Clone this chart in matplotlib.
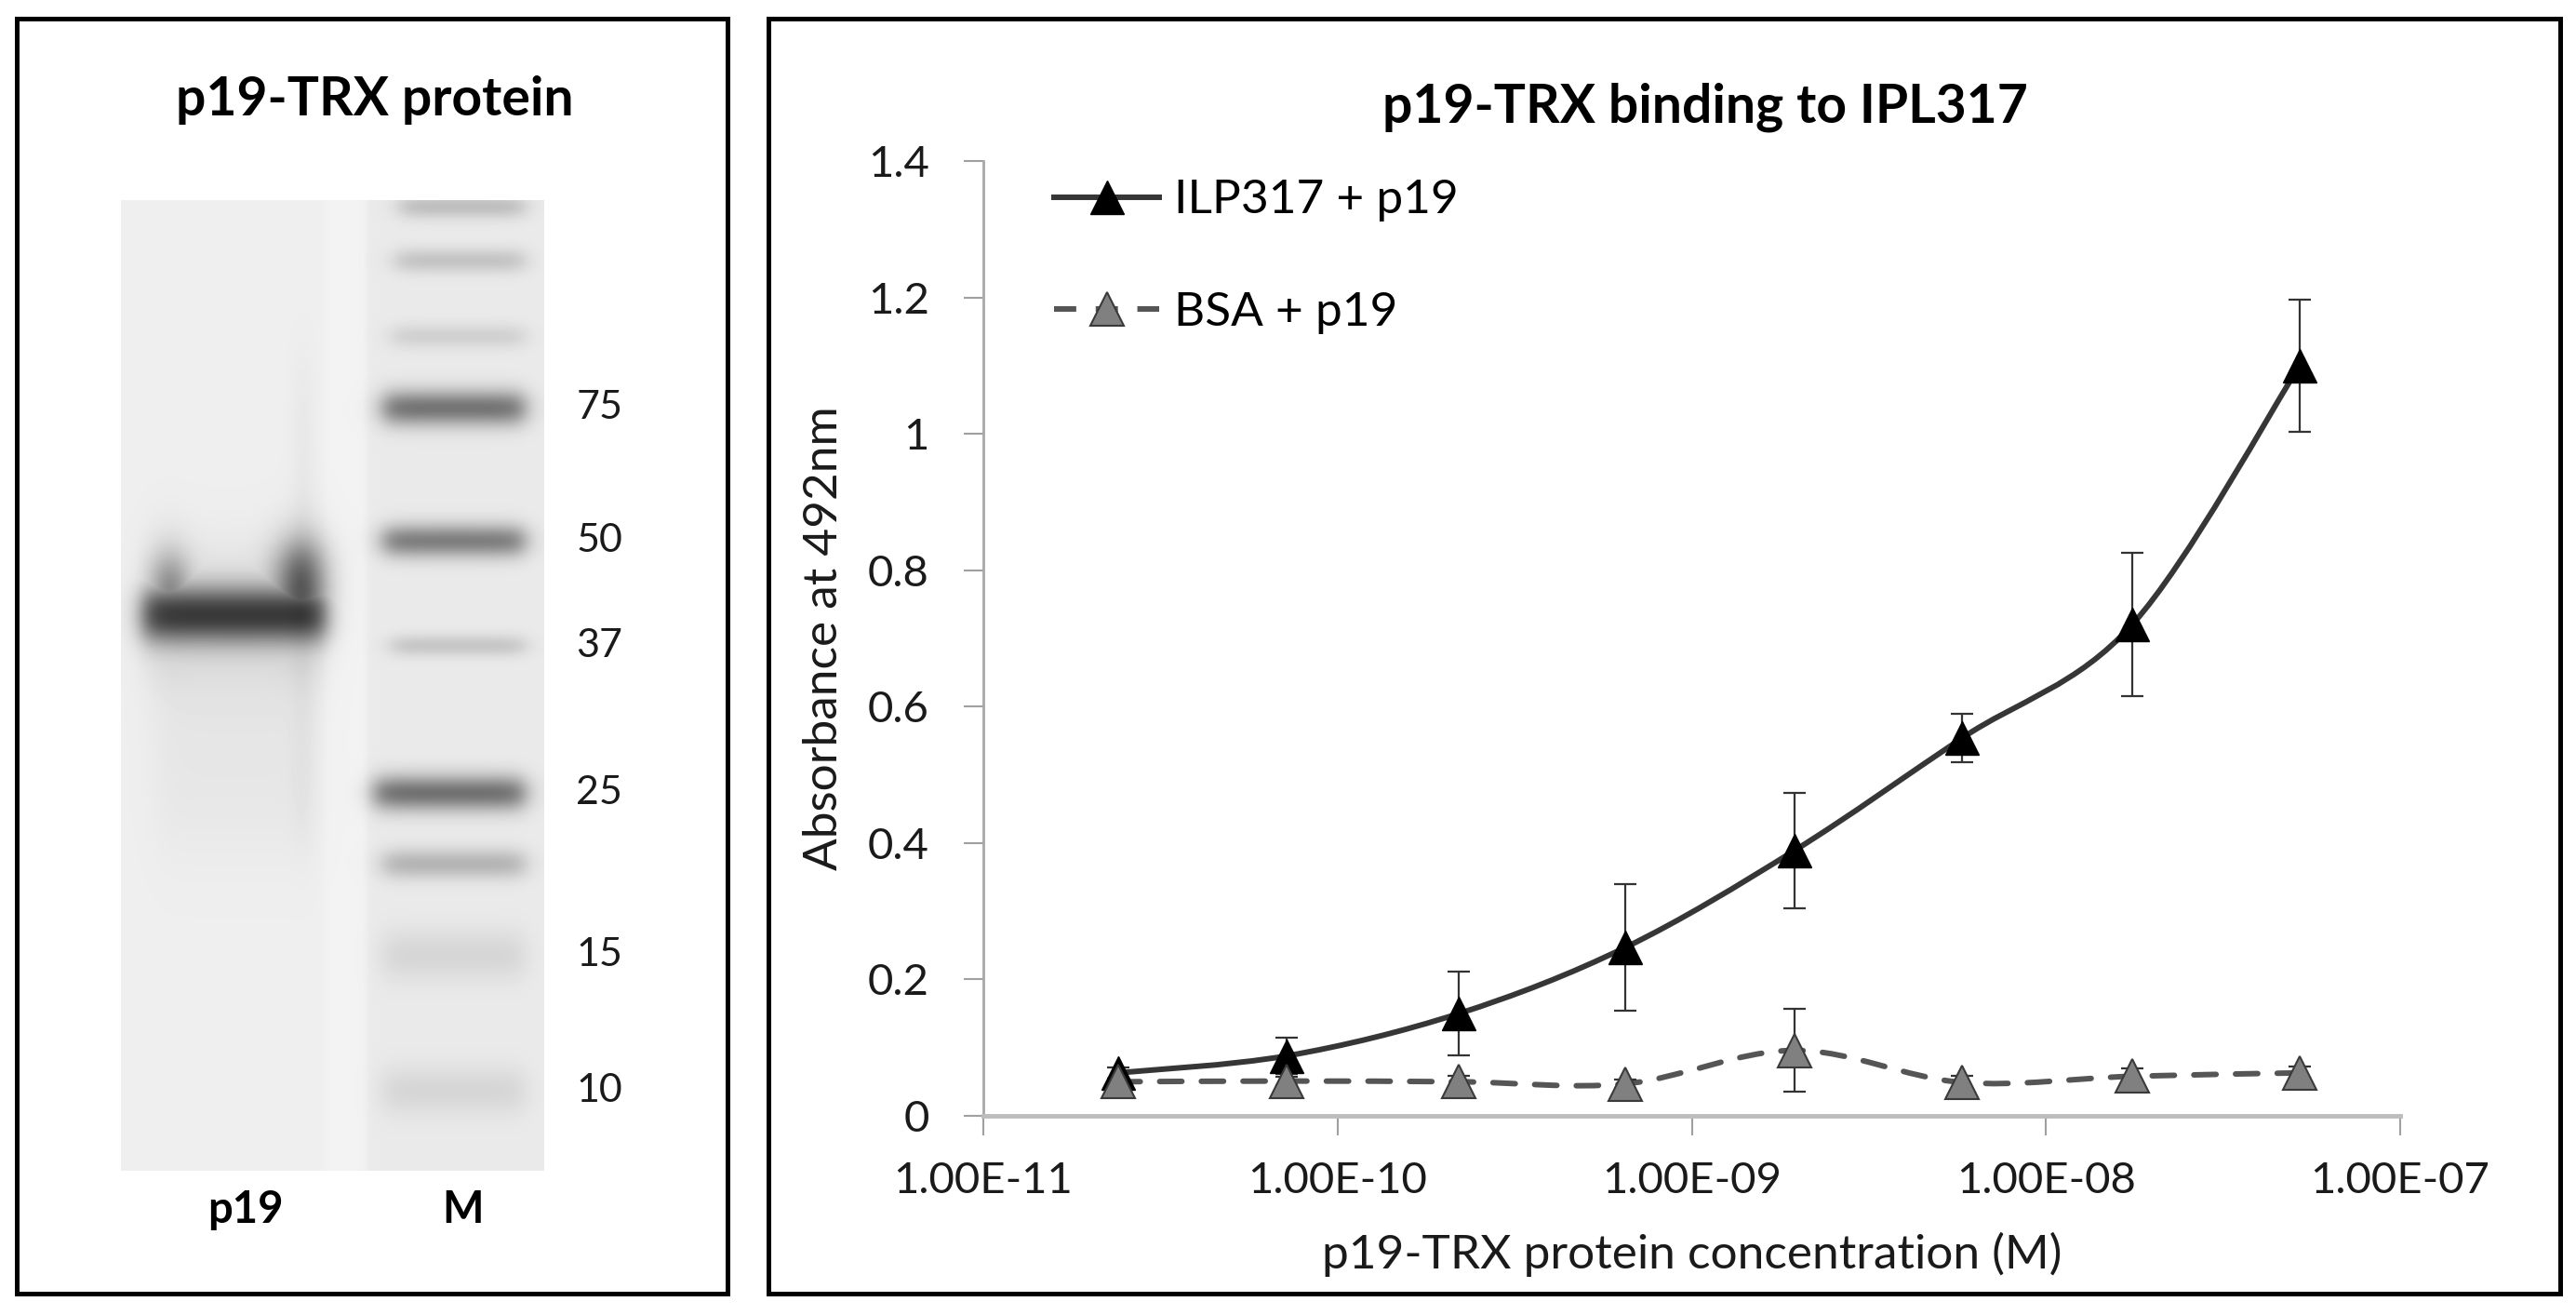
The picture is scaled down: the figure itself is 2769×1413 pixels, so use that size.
import numpy as np
import matplotlib
matplotlib.use("Agg")
import matplotlib.pyplot as plt
from matplotlib.path import Path
from matplotlib.patches import PathPatch, Rectangle
from matplotlib.lines import Line2D
from matplotlib.ticker import FuncFormatter, FixedLocator

plt.rcParams['font.family'] = ['Lato', 'DejaVu Sans']

# ---- binding assay data ----
conc = [2.4e-11, 7.2e-11, 2.2e-10, 6.5e-10, 1.95e-9, 5.8e-9, 1.75e-8, 5.2e-8]
ilp_abs = [0.063, 0.088, 0.150, 0.247, 0.389, 0.554, 0.720, 1.100]
ilp_err = [0.008, 0.027, 0.061, 0.093, 0.085, 0.035, 0.105, 0.097]
bsa_abs = [0.050, 0.051, 0.050, 0.047, 0.096, 0.049, 0.058, 0.063]
bsa_err = [0.005, 0.006, 0.008, 0.006, 0.061, 0.010, 0.012, 0.010]

x_ticks = [1e-11, 1e-10, 1e-9, 1e-8, 1e-7]
y_ticks = [0, 0.2, 0.4, 0.6, 0.8, 1.0, 1.2, 1.4]

# ---- gel data (relative migration, band strength) ----
marker_rf = [0.006, 0.062, 0.140, 0.214, 0.351, 0.459, 0.611, 0.684, 0.778, 0.918]
marker_int = [0.17, 0.15, 0.10, 0.46, 0.42, 0.14, 0.47, 0.21, 0.08, 0.08]
marker_kda = ["", "", "", "75", "50", "37", "25", "", "15", "10"]
p19_rf = 0.427
p19_int = 0.60

W_PX, H_PX = 2769, 1413
fig = plt.figure(figsize=(W_PX / 100, H_PX / 100), dpi=100)


def fx(px):
    return px / W_PX


def fy(py):
    return 1 - py / H_PX


# panel frames
for x0, x1 in [(17.5, 782.5), (826, 2752)]:
    fig.add_artist(Rectangle((fx(x0), fy(1390)), fx(x1) - fx(x0), fy(20) - fy(1390),
                             transform=fig.transFigure, fill=False,
                             edgecolor='black', lw=3.6))


# ---------------- gel panel ----------------
def soft_box(v, a, b, e):
    return 0.5 * (np.tanh((v - a) / e) - np.tanh((v - b) / e))


def gauss(v, c, s):
    return np.exp(-0.5 * ((v - c) / s) ** 2)


H, W = 1043, 455
gx = np.linspace(0, 1, W)[None, :]
gy = np.linspace(0, 1, H)[:, None]

base = np.full((H, W), 0.935)
base = base - 0.018 * soft_box(gx, 0.58, 1.3, 0.008)
base = base + 0.015 * soft_box(gx, 0.48, 0.58, 0.01)

band_sig = [0.009, 0.009, 0.009, 0.013, 0.012, 0.008, 0.013, 0.011, 0.019, 0.018]
band_x0 = [0.66, 0.65, 0.64, 0.62, 0.62, 0.64, 0.60, 0.62, 0.62, 0.62]
dark = np.zeros((H, W))
for rf, amp, sig, bx in zip(marker_rf, marker_int, band_sig, band_x0):
    dark += amp * gauss(gy, rf, sig) * soft_box(gx, bx, 0.955, 0.03)

# p19 lane: main band with raised edges ("ears"), combined with max so they merge
lane = soft_box(gx, 0.05, 0.485, 0.03)
p19_band = p19_int * np.exp(-0.5 * np.abs((gy - p19_rf) / 0.021) ** 2.2) * lane
ear_left = 0.38 * gauss(gx, 0.115, 0.035) * soft_box(gy, 0.372, p19_rf + 0.01, 0.028)
ear_right = 0.55 * gauss(gx, 0.425, 0.045) * soft_box(gy, 0.358, p19_rf + 0.01, 0.028)
dark += np.maximum(p19_band, np.maximum(ear_left, ear_right))
dark += 0.09 * gauss(gy, p19_rf, 0.045) * lane
dark += 0.035 * soft_box(gx, 0.08, 0.46, 0.04) * soft_box(gy, p19_rf, 0.66, 0.05)
dark += 0.025 * gauss(gx, 0.43, 0.02) * soft_box(gy, 0.17, 0.66, 0.04)

gel = np.clip(base - dark, 0, 1)

ax_gel = fig.add_axes([fx(130), fy(1258), fx(585) - fx(130), fy(215) - fy(1258)])
ax_gel.imshow(gel, cmap='gray', vmin=0, vmax=1, extent=(0, 1, 1, 0),
              aspect='auto', interpolation='bilinear')
ax_gel.set_xlim(0, 1)
ax_gel.set_ylim(1, 0)
ax_gel.axis('off')

for rf, lab in zip(marker_rf, marker_kda):
    if lab:
        ax_gel.text(1.13, rf, lab, ha='center', va='center', fontsize=31,
                    color='#1a1a1a', clip_on=False)
ax_gel.text(0.295, 1.04, "p19", ha='center', va='center', fontsize=34,
            fontweight='bold', clip_on=False)
ax_gel.text(0.807, 1.04, "M", ha='center', va='center', fontsize=34,
            fontweight='bold', clip_on=False)
fig.text(fx(403), fy(107), "p19-TRX protein", ha='center', va='center',
         fontsize=41, fontweight='bold')


# ---------------- binding panel ----------------
def smooth_path(xs, ys):
    # Excel-like smoothed line: Catmull-Rom segments in log-x space
    pts = np.column_stack([np.log10(xs), ys])
    n = len(pts)
    verts = [pts[0]]
    codes = [Path.MOVETO]
    for i in range(n - 1):
        p0 = pts[max(i - 1, 0)]
        p1 = pts[i]
        p2 = pts[i + 1]
        p3 = pts[min(i + 2, n - 1)]
        verts += [p1 + (p2 - p0) / 6, p2 - (p3 - p1) / 6, p2]
        codes += [Path.CURVE4] * 3
    verts = np.array(verts)
    verts[:, 0] = 10 ** verts[:, 0]
    return Path(verts, codes)


ax = fig.add_axes([fx(1057), fy(1199), fx(2580) - fx(1057), fy(173) - fy(1199)])
ax.set_xscale('log')
ax.set_xlim(1e-11, 1e-7)
ax.set_ylim(0, 1.4)

ilp_color = '#363636'
bsa_color = '#555555'
lw = 4.3

ax.add_patch(PathPatch(smooth_path(conc, ilp_abs), fill=False, edgecolor=ilp_color,
                       lw=lw, zorder=3))
ax.add_patch(PathPatch(smooth_path(conc, bsa_abs), fill=False, edgecolor=bsa_color,
                       lw=lw, linestyle=(0, (4, 3.5)), capstyle='round', zorder=3))

ax.errorbar(conc, ilp_abs, yerr=ilp_err, fmt='none', ecolor='#333333',
            elinewidth=1.6, capsize=8.5, capthick=1.6, zorder=4)
ax.errorbar(conc, bsa_abs, yerr=bsa_err, fmt='none', ecolor='#333333',
            elinewidth=1.6, capsize=8.5, capthick=1.6, zorder=4)
ax.plot(conc, ilp_abs, linestyle='none', marker='^', ms=26, mfc='black',
        mec='black', mew=1, zorder=5)
ax.plot(conc, bsa_abs, linestyle='none', marker='^', ms=26, mfc='#808080',
        mec='#3a3a3a', mew=1.5, zorder=6)

for s in ['top', 'right']:
    ax.spines[s].set_visible(False)
ax.spines['left'].set_color('#a8a8a8')
ax.spines['left'].set_linewidth(2)
ax.spines['bottom'].set_color('#bdbdbd')
ax.spines['bottom'].set_linewidth(3.5)

ax.xaxis.set_major_locator(FixedLocator(x_ticks))
ax.xaxis.set_minor_locator(FixedLocator([]))
ax.xaxis.set_major_formatter(FuncFormatter(lambda v, p: f"{v:.2E}"))
ax.yaxis.set_major_locator(FixedLocator(y_ticks))
ax.yaxis.set_major_formatter(FuncFormatter(lambda v, p: f"{v:g}"))
ax.tick_params(axis='both', which='major', direction='out', length=15, width=1.5,
               color='#a0a0a0', labelsize=34, labelcolor='#1a1a1a')
ax.tick_params(axis='y', pad=27)
ax.tick_params(axis='x', pad=20)

ax.set_xlabel("p19-TRX protein concentration (M)", fontsize=37, color='#1a1a1a')
ax.set_ylabel("Absorbance at 492nm", fontsize=37, color='#1a1a1a')
ax.xaxis.set_label_coords(0.5, -0.122)
ax.yaxis.set_label_coords(-0.097, 0.5)

fig.text(fx(1833), fy(115), "p19-TRX binding to IPL317", ha='center', va='center',
         fontsize=41, fontweight='bold')

handles = [
    Line2D([], [], color=ilp_color, lw=lw, marker='^', ms=26, mfc='black', mec='black'),
    Line2D([], [], color=bsa_color, lw=lw, linestyle=(0, (4, 3.5)), marker='^', ms=26,
           mfc='#808080', mec='#3a3a3a', mew=1.5),
]
ax.legend(handles, ["ILP317 + p19", "BSA + p19"], loc='upper left',
          bbox_to_anchor=(0.05, 0.981), frameon=False, fontsize=37,
          handlelength=2.2, handletextpad=0.3, labelspacing=1.45, borderpad=0,
          borderaxespad=0)

fig.savefig("out.png", dpi=100)
